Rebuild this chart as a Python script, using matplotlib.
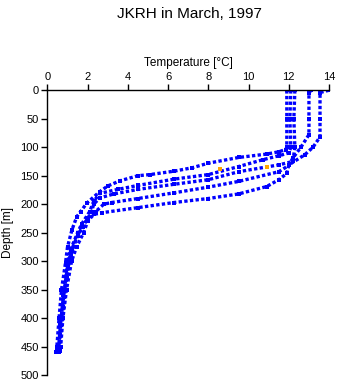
import matplotlib
matplotlib.use("Agg")
import matplotlib.pyplot as plt

plt.rcParams['font.family'] = ['Liberation Sans', 'DejaVu Sans']

# profiles: depth [m] and temperature [C]
p1_depth = [0, 50, 100, 104, 108, 112, 118, 128, 136, 142, 148, 150, 159, 168, 178, 198, 213, 222, 245, 275, 303, 350, 400, 450, 460]
p1_temp = [11.9, 11.9, 11.9, 11.85, 11.5, 10.9, 9.5, 8.0, 7.2, 6.3, 5.1, 4.5, 3.6, 3.0, 2.6, 1.96, 1.65, 1.46, 1.22, 1.0, 0.9, 0.7, 0.58, 0.47, 0.45]

p2_depth = [0, 50, 100, 110, 115, 122, 134, 148, 156, 167, 174, 181, 195, 213, 235, 250, 280, 300, 350, 400, 450, 460]
p2_temp = [12.1, 12.05, 12.1, 12.0, 11.5, 10.7, 9.5, 8.0, 6.3, 4.5, 3.5, 2.6, 2.3, 2.1, 1.7, 1.5, 1.15, 1.0, 0.85, 0.68, 0.57, 0.55]

p3_depth = [0, 50, 100, 125, 131, 143, 157, 165, 174, 182, 189, 200, 213, 240, 255, 290, 330, 380, 430, 460]
p3_temp = [12.3, 12.25, 12.3, 12.2, 11.5, 9.5, 8.0, 6.3, 4.5, 3.3, 2.6, 2.3, 2.2, 1.75, 1.5, 1.15, 0.95, 0.8, 0.65, 0.58]

p4_depth = [0, 5, 50, 78, 100, 119, 132, 143, 160, 170, 180, 190, 197, 200, 213, 225, 240, 255, 280, 310, 360, 410, 455]
p4_temp = [13.1, 13.0, 13.0, 13.0, 12.6, 12.2, 12.0, 11.5, 9.5, 8.0, 6.3, 4.5, 3.2, 2.8, 2.4, 2.0, 1.75, 1.5, 1.2, 1.0, 0.8, 0.65, 0.55]

p5_depth = [0, 4, 50, 82, 100, 113, 131, 146, 157, 169, 182, 190, 197, 206, 215, 218, 230, 250, 275, 300, 350, 400, 450, 458]
p5_temp = [14.0, 13.55, 13.55, 13.55, 13.2, 12.8, 12.0, 11.9, 11.5, 10.9, 9.5, 8.0, 6.3, 4.5, 2.7, 2.3, 2.0, 1.8, 1.45, 1.2, 0.95, 0.77, 0.66, 0.62]

profiles = [(p1_temp, p1_depth), (p2_temp, p2_depth), (p3_temp, p3_depth),
            (p4_temp, p4_depth), (p5_temp, p5_depth)]

flag_temp = [8.57, 10.9]
flag_depth = [138, 135]

x_ticks = list(range(0, 15, 2))
y_ticks = list(range(0, 501, 50))

fig = plt.figure(figsize=(3.41, 3.84), dpi=100)
ax = fig.add_axes([0.139, 0.023, 0.826, 0.742])

for t, d in profiles:
    ax.plot(t, d, color='#0000ff', linestyle=(0, (1, 0.7)), linewidth=2.4,
            marker='s', markersize=2.6, markeredgewidth=0, solid_capstyle='butt')
ax.plot(flag_temp, flag_depth, 's', color='#ffa500', markersize=2.8, markeredgewidth=0)

ax.set_xlim(0, 14)
ax.set_ylim(500, 0)
ax.set_xticks(x_ticks)
ax.set_yticks(y_ticks)
ax.xaxis.tick_top()
ax.xaxis.set_label_position('top')
ax.spines['right'].set_visible(False)
ax.spines['bottom'].set_visible(False)
ax.spines['top'].set_linewidth(1.0)
ax.spines['left'].set_linewidth(1.0)
ax.tick_params(axis='both', direction='out', length=4, width=1.0, labelsize=8, pad=2)
ax.set_xlabel('Temperature [°C]', fontsize=8.5, labelpad=4)
ax.set_ylabel('Depth [m]', fontsize=8.5, labelpad=5)

fig.text(0.557, 0.963, 'JKRH in March, 1997', ha='center', va='center', fontsize=11)

fig.savefig('out.png', dpi=100)
